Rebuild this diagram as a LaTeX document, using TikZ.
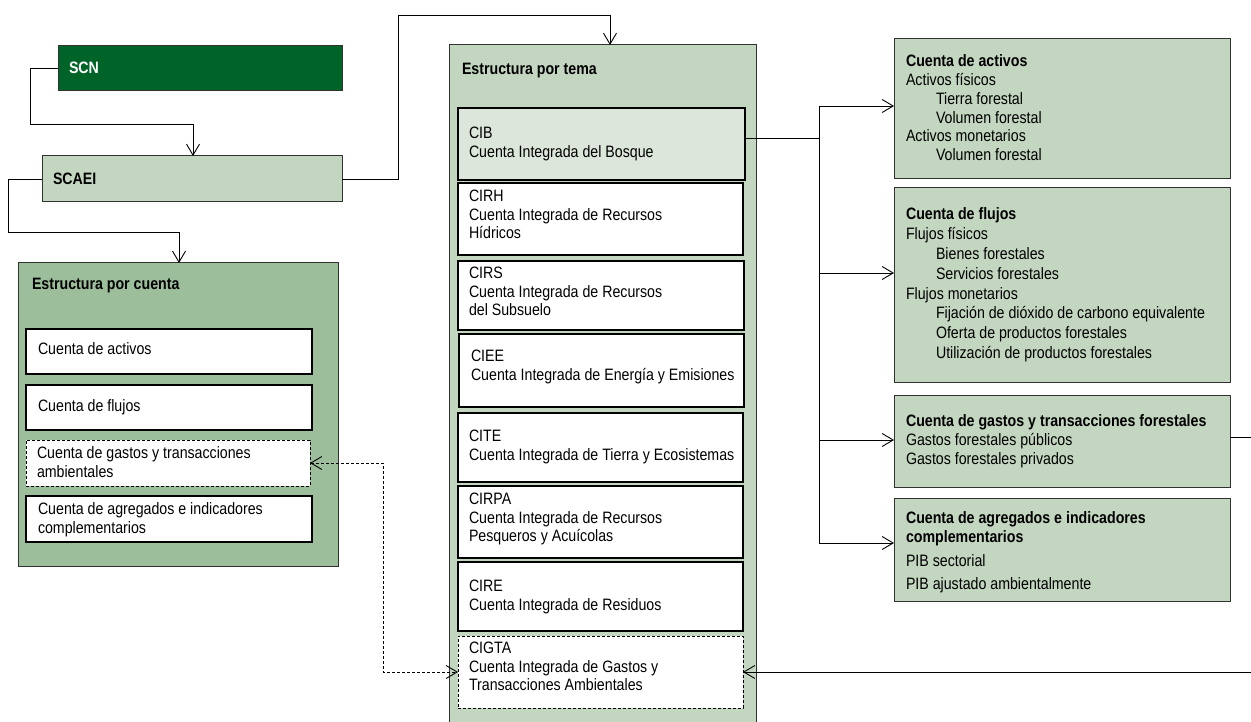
\documentclass[tikz,border=0pt]{standalone}
\usepackage{fontspec}
\setmainfont{Liberation Sans}[FakeStretch=0.86]
\usetikzlibrary{arrows.meta}
\definecolor{scngreen}{RGB}{0,100,40}
\definecolor{palegreen}{RGB}{195,214,192}
\definecolor{midgreen}{RGB}{157,190,154}
\definecolor{cibgreen}{RGB}{220,230,218}
\definecolor{edgegray}{RGB}{50,50,50}
\tikzset{
  panel/.style={draw=edgegray, line width=1pt, fill=palegreen, inner sep=0pt, outer sep=0pt, anchor=north west},
  item/.style={draw=black, line width=2pt, fill=white, inner sep=0pt, outer sep=0pt, anchor=north west},
  dashitem/.style={draw=black, line width=0.9pt, dash pattern=on 3pt off 2pt, fill=white, inner sep=0pt, outer sep=0pt, anchor=north west},
  txt/.style={anchor=north west, inner sep=0pt, outer sep=0pt, align=left, font=\fontsize{16.5}{18.7}\selectfont},
  link/.style={draw=black, line width=0.9pt},
  arr/.style={link, -{Straight Barb[length=11pt,width=13pt]}},
  dlink/.style={link, dash pattern=on 3pt off 2pt, {Straight Barb[length=11pt,width=13pt]}-{Straight Barb[length=11pt,width=13pt]}},
}
\newcommand{\ind}{\hspace*{30pt}}
\begin{document}
\begin{tikzpicture}[x=1pt,y=-1pt]
\useasboundingbox (0,0) rectangle (1251,722);

% top of the hierarchy
\node[panel, fill=scngreen, minimum width=284pt, minimum height=45pt] (scn) at (58,46) {};
\node[txt, text=white, font=\fontsize{16.5}{18.7}\selectfont\bfseries] (tscn) at (69,62) {SCN};
\node[panel, minimum width=300pt, minimum height=46pt] (scaei) at (42,156) {};
\node[txt, font=\fontsize{16.5}{18.7}\selectfont\bfseries] (tscaei) at (53,173) {SCAEI};

% structure by account
\node[panel, fill=midgreen, minimum width=320pt, minimum height=303pt] (cuenta) at (18,263) {};
\node[txt, font=\fontsize{16.5}{18.7}\selectfont\bfseries] (tcuenta) at (32,278) {Estructura por cuenta};
\node[item, minimum width=286pt, minimum height=45pt] (ca1) at (26,329) {};
\node[txt] (tca1) at (38,343) {Cuenta de activos};
\node[item, minimum width=286pt, minimum height=45pt] (ca2) at (26,385) {};
\node[txt] (tca2) at (38,400) {Cuenta de flujos};
\node[dashitem, minimum width=284pt, minimum height=46pt] (ca3) at (26,440) {};
\node[txt] (tca3) at (37,447) {Cuenta de gastos y transacciones\\ambientales};
\node[item, minimum width=286pt, minimum height=46pt] (ca4) at (26,496) {};
\node[txt] (tca4) at (38,503) {Cuenta de agregados e indicadores\\complementarios};

% structure by theme
\node[panel, minimum width=307pt, minimum height=690pt] (tema) at (449,45) {};
\node[txt, font=\fontsize{16.5}{18.7}\selectfont\bfseries] (ttema) at (462,63) {Estructura por tema};
\node[item, fill=cibgreen, minimum width=287pt, minimum height=72pt] (cib) at (458,108) {};
\node[txt] (tcib) at (469,127) {CIB\\Cuenta Integrada del Bosque};
\node[item, minimum width=285pt, minimum height=72pt] (cirh) at (458,183) {};
\node[txt] (tcirh) at (469,190) {CIRH\\Cuenta Integrada de Recursos\\Hídricos};
\node[item, minimum width=286pt, minimum height=69pt] (cirs) at (458,261) {};
\node[txt] (tcirs) at (469,267) {CIRS\\Cuenta Integrada de Recursos\\del Subsuelo};
\node[item, minimum width=285pt, minimum height=73pt] (ciee) at (459,334) {};
\node[txt] (tciee) at (471,350) {CIEE\\Cuenta Integrada de Energía y Emisiones};
\node[item, minimum width=285pt, minimum height=69pt] (cite) at (458,413) {};
\node[txt] (tcite) at (469,430) {CITE\\Cuenta Integrada de Tierra y Ecosistemas};
\node[item, minimum width=285pt, minimum height=72pt] (cirpa) at (458,486) {};
\node[txt] (tcirpa) at (469,493) {CIRPA\\Cuenta Integrada de Recursos\\Pesqueros y Acuícolas};
\node[item, minimum width=285pt, minimum height=69pt] (cire) at (458,562) {};
\node[txt] (tcire) at (469,580) {CIRE\\Cuenta Integrada de Residuos};
\node[dashitem, minimum width=285pt, minimum height=72pt] (cigta) at (458,636) {};
\node[txt] (tcigta) at (469,642) {CIGTA\\Cuenta Integrada de Gastos y\\Transacciones Ambientales};

% forest account detail
\node[panel, minimum width=336pt, minimum height=140pt] (ra) at (894,39) {};
\node[txt] (tra) at (906,55) {\textbf{Cuenta de activos}\\Activos físicos\\\ind Tierra forestal\\\ind Volumen forestal\\Activos monetarios\\\ind Volumen forestal};
\node[panel, minimum width=336pt, minimum height=194pt] (rf) at (894,188) {};
\node[txt, font=\fontsize{16.5}{19.8}\selectfont] (trf) at (906,208) {\textbf{Cuenta de flujos}\\Flujos físicos\\\ind Bienes forestales\\\ind Servicios forestales\\Flujos monetarios\\\ind Fijación de dióxido de carbono equivalente\\\ind Oferta de productos forestales\\\ind Utilización de productos forestales};
\node[panel, minimum width=336pt, minimum height=92pt] (rg) at (894,395) {};
\node[txt, font=\fontsize{16.5}{19}\selectfont] (trg) at (906,415) {\textbf{Cuenta de gastos y transacciones forestales}\\Gastos forestales públicos\\Gastos forestales privados};
\node[panel, minimum width=336pt, minimum height=103pt] (rag) at (894,498) {};
\node[txt, font=\fontsize{16.5}{19}\selectfont] (trag) at (906,512) {\textbf{Cuenta de agregados e indicadores}\\\textbf{complementarios}\\[4.5pt]PIB sectorial\\[4.5pt]PIB ajustado ambientalmente};

% connector waypoints
\coordinate (k1) at (193,124);
\coordinate (k2) at (179,232);
\coordinate (k3) at (398,179);
\coordinate (k4) at (610,15);
\coordinate (j1) at (819,138);
\coordinate (j2) at (819,106);
\coordinate (j3) at (819,273);
\coordinate (j4) at (819,440);
\coordinate (j5) at (819,543);
\coordinate (d1) at (383,463);
\coordinate (e1) at (1251,437);
\coordinate (e2) at (1251,672);

% connectors
\draw[arr] (scn.west) -- ++(-28,0) |- (k1) -- (k1 |- scaei.north);
\draw[arr] (scaei.west) -- ++(-34,0) |- (k2) -- (k2 |- cuenta.north);
\draw[arr] (scaei.east) -- (k3) |- (k4) -- (k4 |- tema.north);
\draw[link] (cib.east |- j1) -- (j1);
\draw[link] (j2) -- (j5);
\draw[arr] (j2) -- (j2 -| ra.west);
\draw[arr] (j3) -- (j3 -| rf.west);
\draw[arr] (j4) -- (j4 -| rg.west);
\draw[arr] (j5) -- (j5 -| rag.west);
\draw[dlink] (ca3.east) -- (d1) |- (cigta.west);
\draw[link] (rg.east |- e1) -- (e1);
\draw[arr] (e2) -- (cigta.east);
\end{tikzpicture}
\end{document}
